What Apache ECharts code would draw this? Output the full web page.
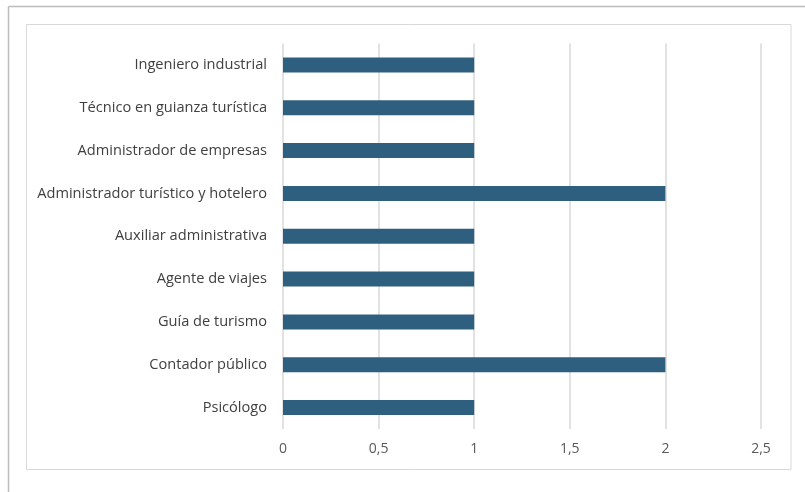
<!DOCTYPE html>
<html>
<head>
<meta charset="utf-8">
<script src="https://cdn.jsdelivr.net/npm/echarts@6/dist/echarts.min.js"></script>
<style>
  html, body { margin: 0; padding: 0; background: #ffffff; }
  #chart { width: 805px; height: 492px; }
</style>
</head>
<body>
<div id="chart"></div>
<script>
// Professions (top to bottom) and the count for each
const categories = [
  'Ingeniero industrial',
  'Técnico en guianza turística',
  'Administrador de empresas',
  'Administrador turístico y hotelero',
  'Auxiliar administrativa',
  'Agente de viajes',
  'Guía de turismo',
  'Contador público',
  'Psicólogo'
];
const values = [1, 1, 1, 2, 1, 1, 1, 2, 1];
const xTicks = [0, 0.5, 1, 1.5, 2, 2.5];

const chart = echarts.init(document.getElementById('chart'), null, { renderer: 'canvas' });

const fontFamily = '"Open Sans", "Noto Sans", sans-serif';

chart.setOption({
  animation: false,
  backgroundColor: '#ffffff',
  graphic: [
    // outer frame (top and left edges)
    { type: 'line', shape: { x1: 8.5, y1: 6.5, x2: 805, y2: 6.5 }, style: { stroke: '#bcbcbc', lineWidth: 1.5 } },
    { type: 'line', shape: { x1: 8.5, y1: 6.5, x2: 8.5, y2: 492 }, style: { stroke: '#bcbcbc', lineWidth: 1.5 } },
    // chart area border
    { type: 'rect', shape: { x: 26.5, y: 24.5, width: 764.5, height: 445 }, style: { fill: 'none', stroke: '#d9d9d9', lineWidth: 1 } }
  ],
  grid: { left: 283, right: 44, top: 43.5, bottom: 63, containLabel: false },
  xAxis: {
    type: 'value',
    min: xTicks[0],
    max: xTicks[xTicks.length - 1],
    interval: 0.5,
    axisLine: { show: false },
    axisTick: { show: false },
    splitLine: { show: true, lineStyle: { color: '#d9d9d9', width: 1.5 } },
    axisLabel: {
      color: '#595959',
      fontSize: 14,
      fontFamily: fontFamily,
      margin: 13,
      formatter: v => String(v).replace('.', ',')
    }
  },
  yAxis: {
    type: 'category',
    data: categories,
    inverse: true,
    axisLine: { show: false },
    axisTick: { show: false },
    splitLine: { show: false },
    axisLabel: {
      color: '#404040',
      fontSize: 14.6,
      fontFamily: fontFamily,
      margin: 16
    }
  },
  series: [{
    type: 'bar',
    data: values,
    barWidth: 15,
    itemStyle: { color: '#2e5f7f' },
    silent: true
  }]
});
</script>
</body>
</html>
